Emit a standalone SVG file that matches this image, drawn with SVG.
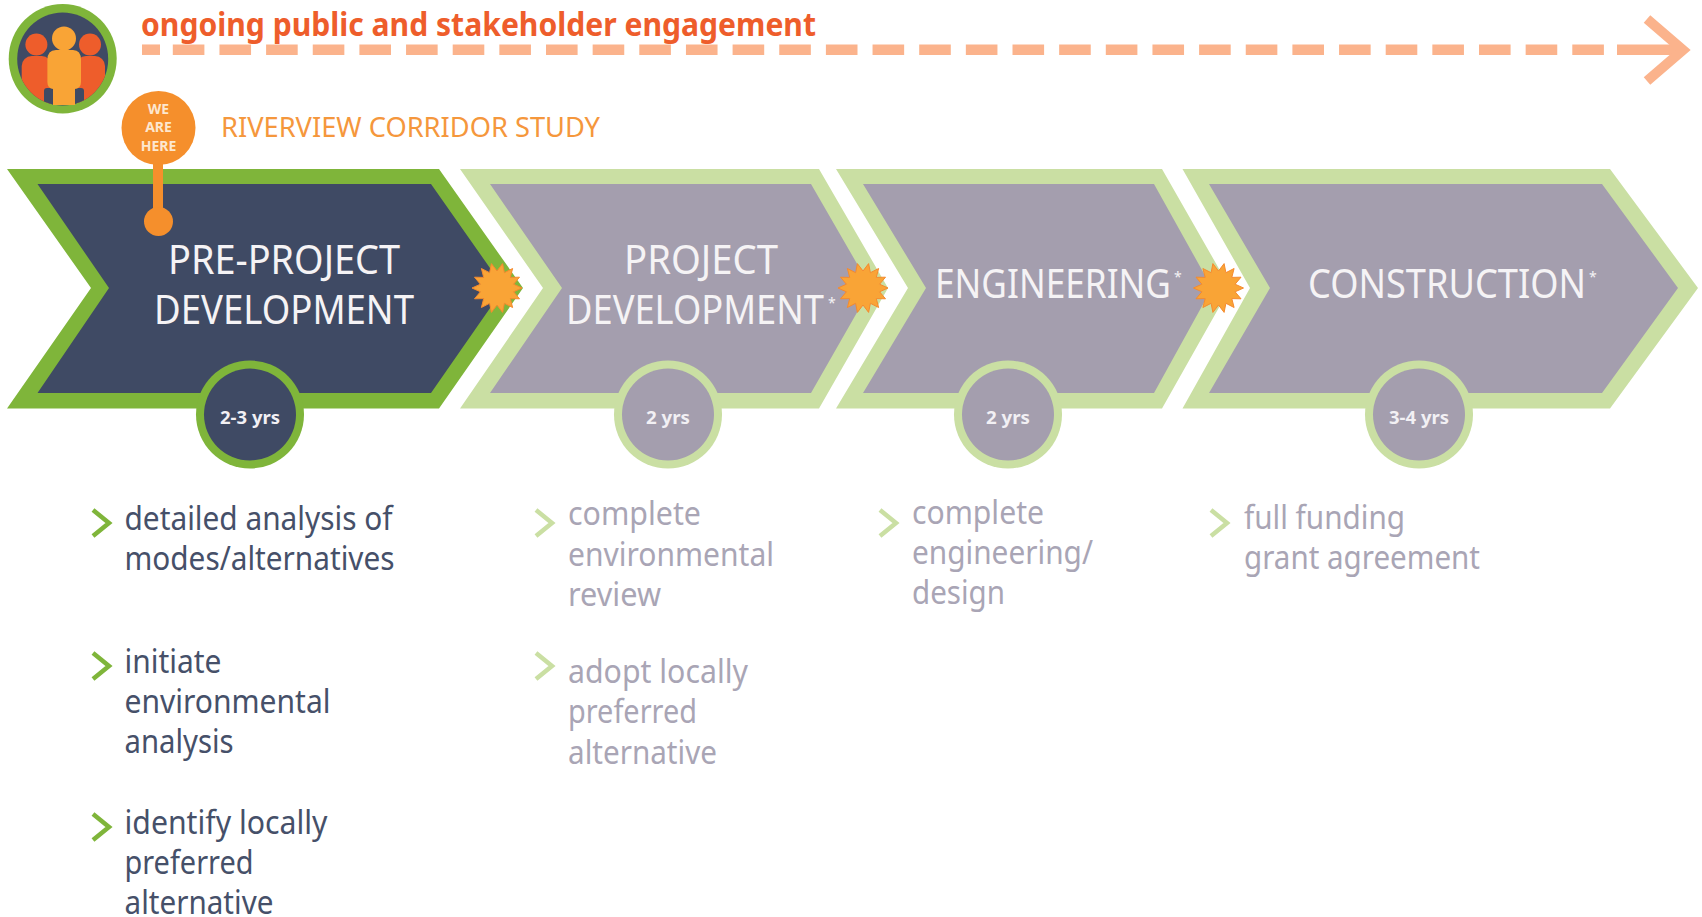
<svg xmlns="http://www.w3.org/2000/svg" width="1702" height="917" viewBox="0 0 1702 917">
<style>
text{font-family:"Noto Sans","Open Sans","Liberation Sans",sans-serif}
.o1{fill:#7fb53a}.i1{fill:#3f4a64}.o2{fill:#cadfa3}.i2{fill:#a49eae}
.star{fill:#f9a436;stroke:#f58a2e;stroke-width:1}
.h{fill:#f5f3f5;font-size:40px}
.sup{fill:#f5f3f5;font-size:14px}
.y{fill:#f2f0f4;font-size:18px;font-weight:700;text-anchor:middle}
.a{font-size:32px}.a1{fill:#465069}.a2{fill:#a9a5b5}
.b1,.b2{fill:none;stroke-width:4.500}
.b1{stroke:#7fb53a}.b2{stroke:#cadfa3}
.dash{fill:none;stroke:#fbb38c}
</style>
<defs>
<polygon id="burst" class="star" points="25,0 16.600,3.800 22.500,10.800 13.300,10.600 15.600,19.500 7.400,15.300 5.600,24.400 0,17 -5.600,24.400 -7.400,15.300 -15.600,19.500 -13.300,10.600 -22.500,10.800 -16.600,3.800 -25,0 -16.600,-3.800 -22.500,-10.800 -13.300,-10.600 -15.600,-19.500 -7.400,-15.300 -5.600,-24.400 0,-17 5.600,-24.400 7.400,-15.300 15.600,-19.500 13.300,-10.600 22.500,-10.800 16.600,-3.800"/>
<clipPath id="logo-clip"><ellipse cx="62.700" cy="59" rx="45.500" ry="46.500"/></clipPath>
</defs>
<rect width="1702" height="917" fill="#fff"/>
<g id="connectors">
<path class="dash" d="M142 49.700H160" stroke-width="10.500"/>
<path class="dash" d="M172.800 49.700H1619" stroke-width="10.500" stroke-dasharray="31.600 15.050"/>
<path class="dash" d="M1617 49.700H1681" stroke-width="10.500"/>
<path class="dash" d="M1647 19L1683 50L1647 81" stroke-width="10"/>
</g>
<g id="engagement">
<ellipse cx="62.700" cy="58.700" rx="54" ry="54.700" fill="#7fb53a"/>
<ellipse cx="62.700" cy="59" rx="45.500" ry="46.500" fill="#3f4a64"/>
<g clip-path="url(#logo-clip)">
<circle cx="36.400" cy="44.500" r="11" fill="#ee5d2b"/><circle cx="90" cy="44.500" r="11" fill="#ee5d2b"/>
<rect x="21.700" y="56" width="30" height="60" rx="10" fill="#ee5d2b"/>
<rect x="76" y="56" width="29" height="60" rx="10" fill="#ee5d2b"/>
<rect x="44" y="88" width="9" height="22" rx="3" fill="#3f4a64"/>
<rect x="75" y="88" width="9" height="22" rx="3" fill="#3f4a64"/>
</g>
<circle cx="64" cy="38.500" r="12" fill="#f9a436"/>
<path d="M56 50H73Q81 50 81 60V82Q81 88 75 89V105H53V89Q47.400 88 47.400 82V60Q47.400 50 56 50Z" fill="#f9a436"/>
<text x="141" y="36" font-size="32" font-weight="700" fill="#ee5d2b" textLength="675" lengthAdjust="spacingAndGlyphs">ongoing public and stakeholder engagement</text>
</g>
<g id="pre-project">
<path class="o1" d="M7 169H439L523 288L439 408.500H7L91 288Z"/>
<path class="i1" d="M37.500 184H431L504 288L431 393H37.500L109 288Z"/>
<text class="h" x="168" y="274" textLength="232" lengthAdjust="spacingAndGlyphs">PRE-PROJECT</text>
<text class="h" x="154" y="324" textLength="260" lengthAdjust="spacingAndGlyphs">DEVELOPMENT</text>
<circle class="o1" cx="250" cy="414.500" r="54"/><circle class="i1" cx="250" cy="414.500" r="46"/>
<text class="y" x="250" y="424" textLength="60" lengthAdjust="spacingAndGlyphs">2-3 yrs</text>
<path class="b1" d="M93 510L109 523L93 536"/>
<text class="a a1" x="124.500" y="530" textLength="268" lengthAdjust="spacingAndGlyphs">detailed analysis of</text>
<text class="a a1" x="124.500" y="570" textLength="270" lengthAdjust="spacingAndGlyphs">modes/alternatives</text>
<path class="b1" d="M93 653L109 666L93 679"/>
<text class="a a1" x="124.500" y="672.500" textLength="97" lengthAdjust="spacingAndGlyphs">initiate</text>
<text class="a a1" x="124.500" y="712.500" textLength="206" lengthAdjust="spacingAndGlyphs">environmental</text>
<text class="a a1" x="124.500" y="752.500" textLength="109" lengthAdjust="spacingAndGlyphs">analysis</text>
<path class="b1" d="M93 814L109 827L93 840"/>
<text class="a a1" x="124.500" y="834" textLength="203" lengthAdjust="spacingAndGlyphs">identify locally</text>
<text class="a a1" x="124.500" y="874" textLength="129" lengthAdjust="spacingAndGlyphs">preferred</text>
<text class="a a1" x="124.500" y="913.500" textLength="149" lengthAdjust="spacingAndGlyphs">alternative</text>
</g>
<g id="project-development">
<path class="o2" d="M460 169H819L888 288L819 408.500H460L543 288Z"/>
<path class="i2" d="M490 184H811L871 288L811 393H490L562 288Z"/>
<text class="h" x="624" y="274" textLength="154" lengthAdjust="spacingAndGlyphs">PROJECT</text>
<text class="h" x="566" y="324" textLength="258" lengthAdjust="spacingAndGlyphs">DEVELOPMENT</text>
<text class="sup" x="828" y="308">*</text>
<circle class="o2" cx="668" cy="414.500" r="54"/><circle class="i2" cx="668" cy="414.500" r="46"/>
<text class="y" x="668" y="424" textLength="44" lengthAdjust="spacingAndGlyphs">2 yrs</text>
<path class="b2" d="M536 510L552 523L536 536"/>
<text class="a a2" x="568" y="525" textLength="133" lengthAdjust="spacingAndGlyphs">complete</text>
<text class="a a2" x="568" y="566" textLength="206" lengthAdjust="spacingAndGlyphs">environmental</text>
<text class="a a2" x="568" y="606" textLength="93" lengthAdjust="spacingAndGlyphs">review</text>
<path class="b2" d="M536 653L552 666L536 679"/>
<text class="a a2" x="568" y="682.500" textLength="180" lengthAdjust="spacingAndGlyphs">adopt locally</text>
<text class="a a2" x="568" y="723" textLength="129" lengthAdjust="spacingAndGlyphs">preferred</text>
<text class="a a2" x="568" y="764" textLength="149" lengthAdjust="spacingAndGlyphs">alternative</text>
</g>
<g id="engineering">
<path class="o2" d="M836 169H1162L1230 288L1162 408.500H836L908 288Z"/>
<path class="i2" d="M863 184H1154L1212 288L1154 393H863L926 288Z"/>
<text class="h" x="935" y="298" textLength="236" lengthAdjust="spacingAndGlyphs">ENGINEERING</text>
<text class="sup" x="1174" y="282">*</text>
<circle class="o2" cx="1008" cy="414.500" r="54"/><circle class="i2" cx="1008" cy="414.500" r="46"/>
<text class="y" x="1008" y="424" textLength="44" lengthAdjust="spacingAndGlyphs">2 yrs</text>
<path class="b2" d="M880 510L896 523L880 536"/>
<text class="a a2" x="912" y="523.500" textLength="132" lengthAdjust="spacingAndGlyphs">complete</text>
<text class="a a2" x="912" y="563.500" textLength="181" lengthAdjust="spacingAndGlyphs">engineering/</text>
<text class="a a2" x="912" y="603.500" textLength="93" lengthAdjust="spacingAndGlyphs">design</text>
</g>
<g id="construction">
<path class="o2" d="M1182.500 169H1610L1698 288L1610 408.500H1182.500L1250 288Z"/>
<path class="i2" d="M1209 184H1602L1678 288L1602 393H1209L1270 288Z"/>
<text class="h" x="1308" y="298" textLength="278" lengthAdjust="spacingAndGlyphs">CONSTRUCTION</text>
<text class="sup" x="1589" y="282">*</text>
<circle class="o2" cx="1419" cy="414.500" r="54"/><circle class="i2" cx="1419" cy="414.500" r="46"/>
<text class="y" x="1419" y="424" textLength="60" lengthAdjust="spacingAndGlyphs">3-4 yrs</text>
<path class="b2" d="M1211 510L1227 523L1211 536"/>
<text class="a a2" x="1244" y="528.500" textLength="161" lengthAdjust="spacingAndGlyphs">full funding</text>
<text class="a a2" x="1244" y="569" textLength="236" lengthAdjust="spacingAndGlyphs">grant agreement</text>
</g>
<g id="stars">
<use href="#burst" x="497" y="288"/>
<use href="#burst" x="863" y="288"/>
<use href="#burst" x="1218.500" y="288"/>
</g>
<g id="we-are-here">
<rect x="153" y="160" width="10" height="60" fill="#f58f2c"/>
<circle cx="158.500" cy="128" r="37" fill="#f58f2c"/>
<circle cx="158.500" cy="221.500" r="14.500" fill="#f58f2c"/>
<g font-size="14" font-weight="700" fill="#fde7cf" text-anchor="middle"><text x="158.500" y="114">WE</text><text x="158.500" y="132">ARE</text><text x="158.500" y="151">HERE</text></g>
<text x="221" y="137" font-size="28" fill="#f5973c" textLength="379" lengthAdjust="spacingAndGlyphs">RIVERVIEW CORRIDOR STUDY</text>
</g>
</svg>
